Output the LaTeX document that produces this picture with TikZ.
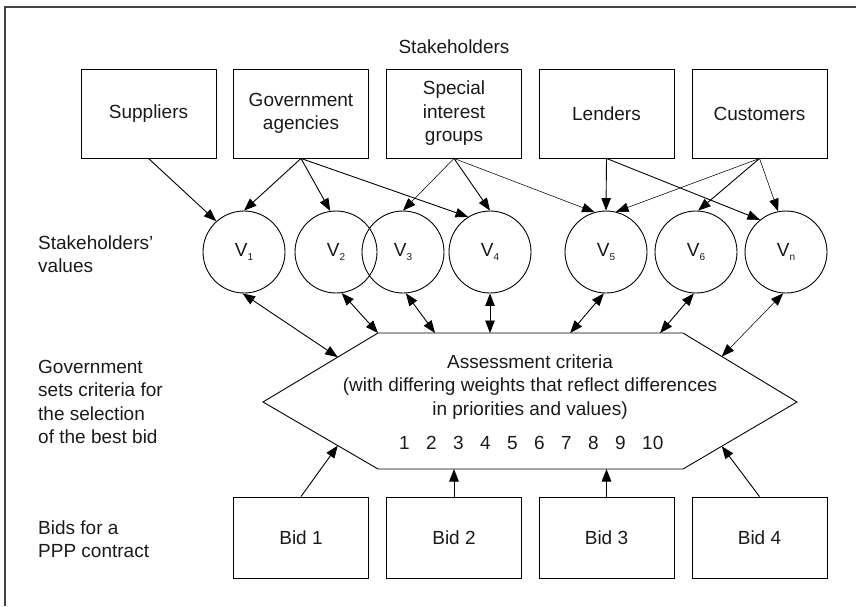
\documentclass[tikz,border=0pt]{standalone}
\usepackage{fontspec}
\setmainfont{Liberation Sans}
\usetikzlibrary{arrows.meta, calc}

\newcommand{\valsub}[1]{\raisebox{-0.45ex}{\fontsize{10}{10}\selectfont #1}}

\begin{document}
\begin{tikzpicture}[x=1pt, y=-1pt,
    every node/.style={font=\fontsize{19}{23.5}\selectfont, text=textColour},
    box/.style={draw=borderColour, line width=0.9pt, minimum width=135pt, minimum height=89pt, align=center},
    bidbox/.style={box, minimum height=81pt},
    valcircle/.style={draw=borderColour, line width=0.9pt, circle, minimum size=82pt, inner sep=0pt},
    sidetext/.style={align=left, anchor=west, inner sep=0pt},
    arr/.style={draw=borderColour, line width=0.9pt, -{Triangle[length=12.5pt, width=9.5pt]}},
    thinarr/.style={arr, line width=0.55pt},
    dblarr/.style={arr, {Triangle[length=12.5pt, width=9.5pt]}-{Triangle[length=12.5pt, width=9.5pt]}},
    thindbl/.style={dblarr, line width=0.55pt}]
    % Define colours
    \definecolor{borderColour}{HTML}{000000}
    \definecolor{textColour}{HTML}{1A1A1A}
    \definecolor{frameColour}{HTML}{444444}

    \useasboundingbox (0,0) rectangle (856,606);

    % Draw frame
    \draw[frameColour, line width=1.4pt] (5,606) -- (5,7) -- (856,7);

    % Draw stakeholder boxes
    \node (stk) at (454,47) {Stakeholders};
    \node[box] (sup) at (148.5,113.5) {Suppliers};
    \node[box] (gov) at (301,113.5) {Government\\agencies};
    \node[box] (sig) at (454,113.5) {Special\\interest\\groups};
    \node[box] (len) at (606.5,113.5) {Lenders};
    \node[box] (cus) at (759.5,113.5) {Customers};

    % Draw value circles
    \foreach \name/\x/\sub in {v1/244/1, v2/336/2, v3/403/3, v4/490/4, v5/606/5, v6/696/6, vn/786/n}
        \node[valcircle] (\name) at (\x,252) {V\valsub{\sub}};

    % Define coordinates for the criteria hexagon
    \coordinate (hl) at (263,402);
    \coordinate (htl) at (378,333);
    \coordinate (htr) at (683,333);
    \coordinate (hr) at (797,402);
    \coordinate (hbr) at (683,469);
    \coordinate (hbl) at (378,469);

    % Draw the criteria hexagon
    \draw[borderColour, line width=0.9pt] (hl) -- (htl) -- (htr) -- (hr) -- (hbr) -- (hbl) -- cycle;
    \node[align=center] (crit) at (530,387) {Assessment criteria\\(with differing weights that reflect differences\\in priorities and values)};
    \foreach \i in {1,...,10}
        \node[anchor=west, inner sep=0pt] (n\i) at (399+27*\i-27,443) {\i};

    % Points on the hexagon edges
    \coordinate (e1) at ($(hl)!0.65!(htl)$);
    \coordinate (t3) at ($(htl)!0.187!(htr)$);
    \coordinate (t5) at ($(htl)!0.63!(htr)$);
    \coordinate (t6) at ($(htl)!0.925!(htr)$);
    \coordinate (en) at ($(hr)!0.66!(htr)$);
    \coordinate (eb1) at ($(hl)!0.65!(hbl)$);
    \coordinate (eb4) at ($(hr)!0.66!(hbr)$);

    % Draw bid boxes
    \node[bidbox] (b1) at (301,537.5) {Bid 1};
    \node[bidbox] (b2) at (454,537.5) {Bid 2};
    \node[bidbox] (b3) at (606.5,537.5) {Bid 3};
    \node[bidbox] (b4) at (759.5,537.5) {Bid 4};

    % Label rows
    \node[sidetext] (valtxt) at (38,254) {Stakeholders’\\values};
    \node[sidetext] (govtxt) at (38,402) {Government\\sets criteria for\\the selection\\of the best bid};
    \node[sidetext] (bidtxt) at (38,539) {Bids for a\\PPP contract};

    % Stakeholders to values
    \draw[arr] (sup.south) -- (v1.132);
    \draw[arr] (gov.south) -- (v1.90);
    \draw[arr] (gov.south) -- (v2.98);
    \draw[arr] (gov.south) -- (v4.122);
    \draw[thinarr] (sig.south) -- (v3.90);
    \draw[arr] (sig.south) -- (v4.90);
    \draw[thinarr] (sig.south) -- (v5.106);
    \draw[arr] (len.south) -- (v5.90);
    \draw[arr] (len.south) -- (vn.129);
    \draw[thinarr] (cus.south) -- (v5.76);
    \draw[arr] (cus.south) -- (v6.87);
    \draw[thinarr] (cus.south) -- (vn.101);

    % Values to criteria
    \draw[dblarr] (v1.268) -- (e1);
    \draw[dblarr] (v2.278) -- (htl);
    \draw[dblarr] (v3.274) -- (t3);
    \draw[dblarr] (v4.south) -- (v4.south |- htl);
    \draw[dblarr] (v5.267) -- (t5);
    \draw[dblarr] (v6.267) -- (t6);
    \draw[thindbl] (vn.266) -- (en);

    % Bids to criteria
    \draw[arr] (b1.north) -- (eb1);
    \draw[arr] (b2.north) -- (b2.north |- hbl);
    \draw[arr] (b3.north) -- (b3.north |- hbl);
    \draw[arr] (b4.north) -- (eb4);
\end{tikzpicture}
\end{document}
